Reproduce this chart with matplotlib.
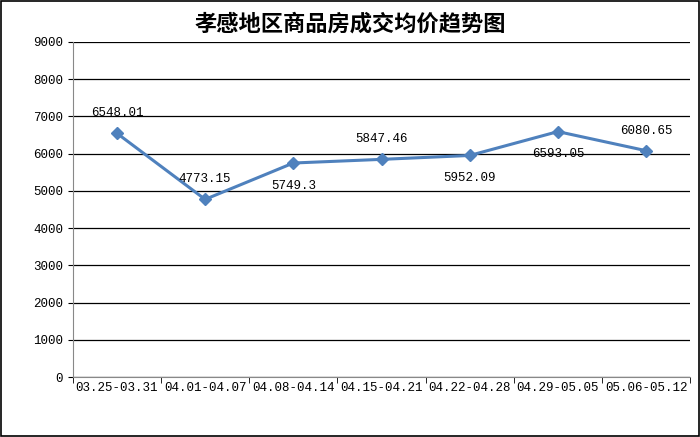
import matplotlib
matplotlib.use("Agg")
import matplotlib.pyplot as plt
from matplotlib.patches import Rectangle

categories = ["03.25-03.31", "04.01-04.07", "04.08-04.14", "04.15-04.21",
              "04.22-04.28", "04.29-05.05", "05.06-05.12"]
values = [6548.01, 4773.15, 5749.3, 5847.46, 5952.09, 6593.05, 6080.65]
labels = ["6548.01", "4773.15", "5749.3", "5847.46", "5952.09", "6593.05", "6080.65"]
label_above = [True, True, False, True, False, False, True]

plt.rcParams['font.family'] = ['Noto Sans CJK SC', 'DejaVu Sans']
fig = plt.figure(figsize=(7, 4.37), dpi=100)
fig.patches.append(Rectangle((0.002, 0.002), 0.996, 0.996, transform=fig.transFigure,
                             fill=False, edgecolor='black', linewidth=1.2))
ax = fig.add_axes([0.104, 0.137, 0.882, 0.767])
x = list(range(len(categories)))
ax.plot(x, values, color='#4F81BD', linewidth=2.2, marker='D', markersize=6)
for xi, v, lab, up in zip(x, values, labels, label_above):
    ax.annotate(lab, (xi, v), xytext=(0, 10 if up else -12), textcoords='offset points',
                ha='center', va='bottom' if up else 'top', fontsize=9,
                family=['Liberation Mono', 'DejaVu Sans Mono'])
ax.set_xlim(-0.5, 6.5)
ax.set_ylim(0, 9000)
ax.set_yticks(range(0, 9001, 1000))
ax.set_xticks(x)
ax.set_xticklabels(categories, family=['Liberation Mono'], fontsize=9)
ax.tick_params(axis='y', labelsize=9)
for l in ax.get_yticklabels():
    l.set_family(['Liberation Mono'])
ax.set_xticks([i - 0.5 for i in range(8)], minor=True)
ax.tick_params(axis='x', which='major', length=0)
ax.tick_params(axis='x', which='minor', length=4)
ax.grid(axis='y', color='black', linewidth=0.9)
ax.set_axisbelow(True)
for s in ['top', 'right']:
    ax.spines[s].set_visible(False)
ax.spines['left'].set_color('#888888')
ax.spines['bottom'].set_color('#888888')
fig.text(0.5, 0.945, "孝感地区商品房成交均价趋势图", ha='center', va='center',
         fontsize=16, fontweight='bold', family=['Noto Sans CJK SC'])
fig.savefig("out.png", dpi=100)
